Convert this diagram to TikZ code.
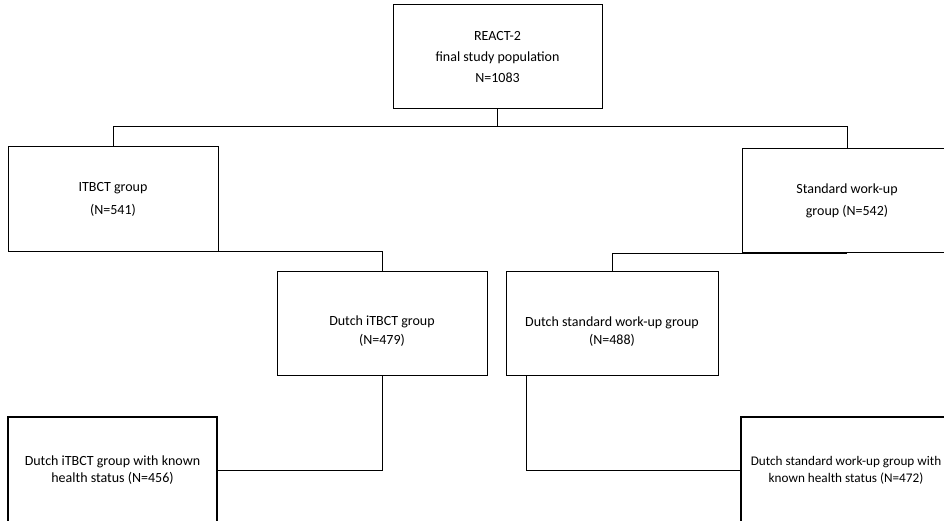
\documentclass[tikz,border=0pt]{standalone}
\usepackage{fontspec}
\setmainfont{Carlito}
\begin{document}
\begin{tikzpicture}[x=1pt,y=-1pt,
    box/.style={draw, line width=1pt, minimum width=210pt, minimum height=104pt,
      align=center, inner sep=2pt},
    endbox/.style={box, line width=1.8pt, minimum height=106pt},
    link/.style={line width=0.9pt},
    txt/.style={align=center, font=\fontsize{14}{#1}\selectfont}]
  \useasboundingbox (0,0) rectangle (944,521);
  \clip (0,0) rectangle (944,521);
  % top of the tree
  \node[box, minimum width=209pt, txt=21] (pop) at (497.5,57)
    {REACT-2\\final study population\\N=1083};
  % randomised groups
  \node[box, txt=23] (itbct) at (113,199) {ITBCT group\\(N=541)};
  \node[box, txt=22] (std) at (847,200.5) {Standard work-up\\group (N=542)};
  % dutch groups
  \node[box, label={[txt=19, yshift=-8pt]center:Dutch iTBCT group\\(N=479)}]
    (dit) at (382,323) {};
  \node[box, minimum width=212pt,
    label={[txt=18, yshift=-9pt]center:Dutch standard work-up group\\(N=488)}]
    (dst) at (612,323) {};
  % known health status
  \node[endbox, minimum width=209pt, txt=17] (bl) at (112.5,470)
    {Dutch iTBCT group with known\\health status (N=456)};
  \node[endbox, align=center, font=\fontsize{13.2}{17}\selectfont] (br) at (846,470)
    {Dutch standard work-up group with\\known health status (N=472)};
  % connectors
  \coordinate (fork) at (497.5,126);
  \draw[link] (pop.south) -- (fork) -| (itbct.north);
  \draw[link] (fork) -| (std.north);
  \draw[link] (itbct.south) -| (dit.north);
  \draw[link] (std.south) -| (dst.north);
  \draw[link] (dit.south) |- (bl.east);
  \draw[link] ([xshift=21pt]dst.south west) |- (br.west);
\end{tikzpicture}
\end{document}
